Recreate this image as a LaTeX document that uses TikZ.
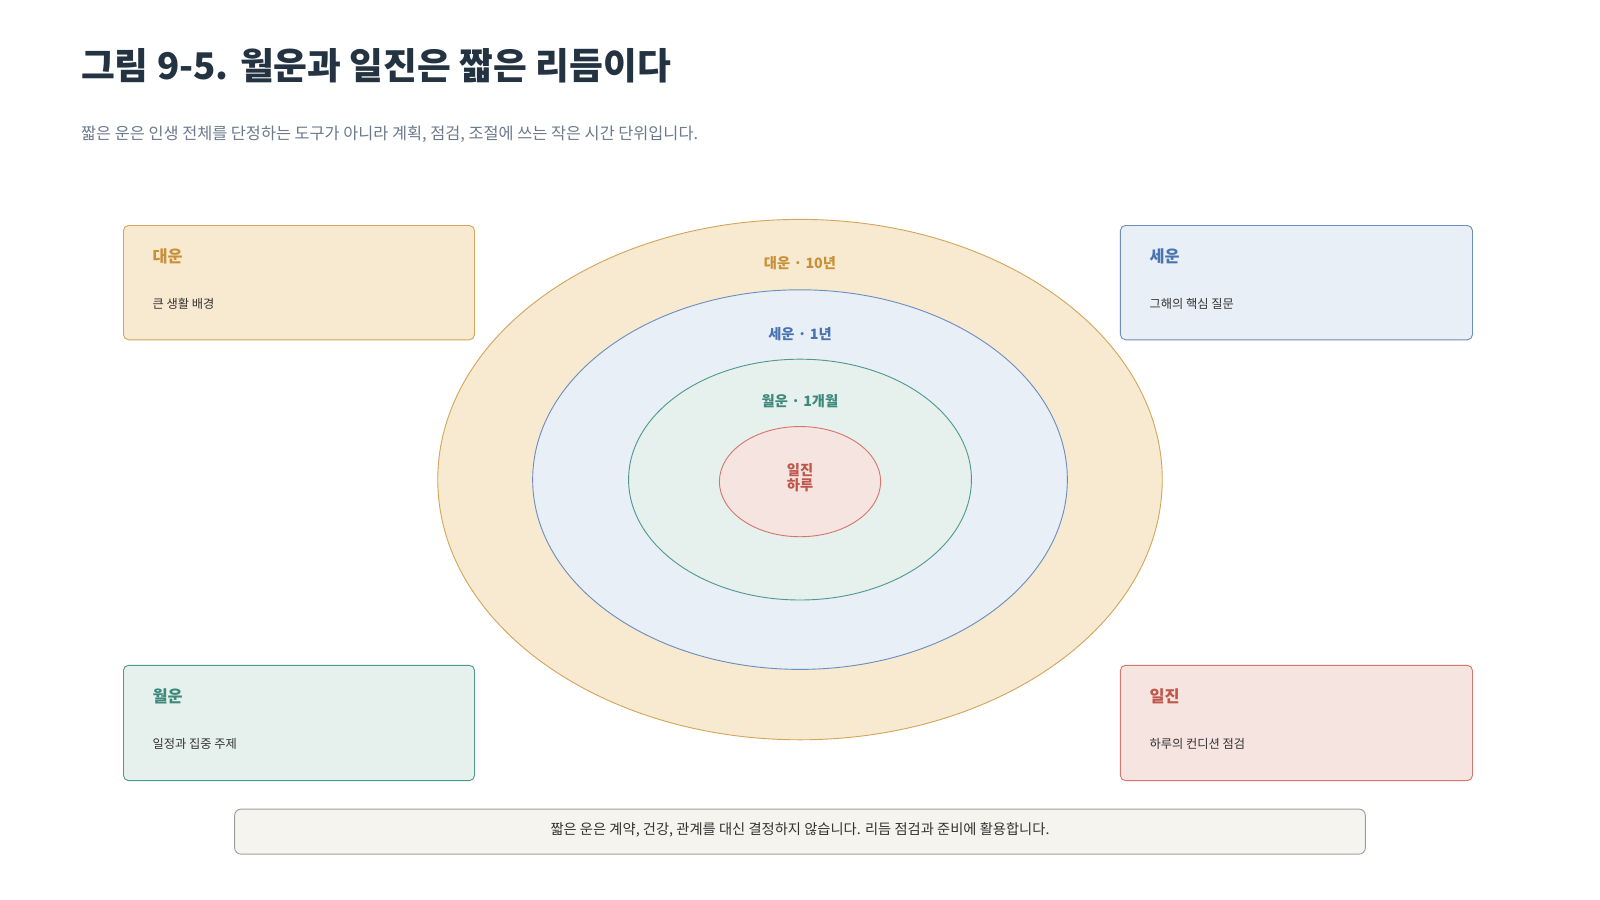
\documentclass[tikz,border=0pt]{standalone}
\usepackage{fontspec}
\setmainfont{Noto Sans CJK KR}
\definecolor{ofill}{HTML}{F7EAD0}\definecolor{oline}{HTML}{D4A659}\definecolor{otext}{HTML}{C8903A}
\definecolor{bfill}{HTML}{E8EFF7}\definecolor{bline}{HTML}{6C8EBF}\definecolor{btext}{HTML}{4A74B0}
\definecolor{gfill}{HTML}{E6F0EC}\definecolor{gline}{HTML}{4F9A8C}\definecolor{gtext}{HTML}{3D8A7C}
\definecolor{rfill}{HTML}{F6E4E1}\definecolor{rline}{HTML}{D6776B}\definecolor{rtext}{HTML}{C0574B}
\definecolor{nfill}{HTML}{F5F4EF}
\definecolor{titlec}{HTML}{243342}\definecolor{subc}{HTML}{6B7A8C}\definecolor{bodyc}{HTML}{333333}
\tikzset{card/.style={rounded corners=5pt,line width=0.9pt},
 cardtitle/.style={anchor=west,font=\fontsize{16}{18}\selectfont\bfseries},
 cardbody/.style={anchor=west,font=\fontsize{12}{14}\selectfont,text=bodyc},
 ringlabel/.style={font=\fontsize{14}{16}\selectfont\bfseries}}
\begin{document}
\begin{tikzpicture}[x=1pt,y=-1pt]
\useasboundingbox[fill=white] (0,0) rectangle (1568,882);
\node[anchor=west,text=titlec,font=\fontsize{36}{40}\selectfont\bfseries] (title) at (76,64) {그림 9-5. 월운과 일진은 짧은 리듬이다};
\node[anchor=west,text=subc,font=\fontsize{16}{20}\selectfont] (sub) at (76,132) {짧은 운은 인생 전체를 단정하는 도구가 아니라 계획, 점검, 조절에 쓰는 작은 시간 단위입니다.};
\path[fill=ofill,draw=oline,line width=0.9pt] (784,470) ellipse [x radius=355,y radius=255];
\path[fill=bfill,draw=bline,line width=0.9pt] (784,470) ellipse [x radius=262,y radius=186];
\path[fill=gfill,draw=gline,line width=0.9pt] (784,470) ellipse [x radius=168,y radius=118];
\path[fill=rfill,draw=rline,line width=0.9pt] (784,472) ellipse [x radius=79,y radius=54];
\node[ringlabel,text=otext] (l1) at (784,258) {대운 · 10년};
\node[ringlabel,text=btext] (l2) at (784,327) {세운 · 1년};
\node[ringlabel,text=gtext] (l3) at (784,393) {월운 · 1개월};
\node[ringlabel,text=rtext,align=center,font=\fontsize{14}{15}\selectfont\bfseries] (l4) at (784,468) {일진\\하루};
\draw[card,fill=ofill,draw=oline] (121,221) rectangle (465,333);
\node[cardtitle,text=otext] (t1) at (146,251) {대운};
\node[cardbody] (b1) at (146,298) {큰 생활 배경};
\draw[card,fill=bfill,draw=bline] (1098,221) rectangle (1443,333);
\node[cardtitle,text=btext] (t2) at (1123,251) {세운};
\node[cardbody] (b2) at (1123,298) {그해의 핵심 질문};
\draw[card,fill=gfill,draw=gline] (121,652) rectangle (465,765);
\node[cardtitle,text=gtext] (t3) at (146,682) {월운};
\node[cardbody] (b3) at (146,729) {일정과 집중 주제};
\draw[card,fill=rfill,draw=rline] (1098,652) rectangle (1443,765);
\node[cardtitle,text=rtext] (t4) at (1123,682) {일진};
\node[cardbody] (b4) at (1123,729) {하루의 컨디션 점검};
\draw[rounded corners=6pt,fill=nfill,draw=black!38,line width=0.9pt] (230,793) rectangle (1338,837);
\node[font=\fontsize{14}{16}\selectfont,text=bodyc] (note) at (784,813) {짧은 운은 계약, 건강, 관계를 대신 결정하지 않습니다. 리듬 점검과 준비에 활용합니다.};
\end{tikzpicture}
\end{document}
